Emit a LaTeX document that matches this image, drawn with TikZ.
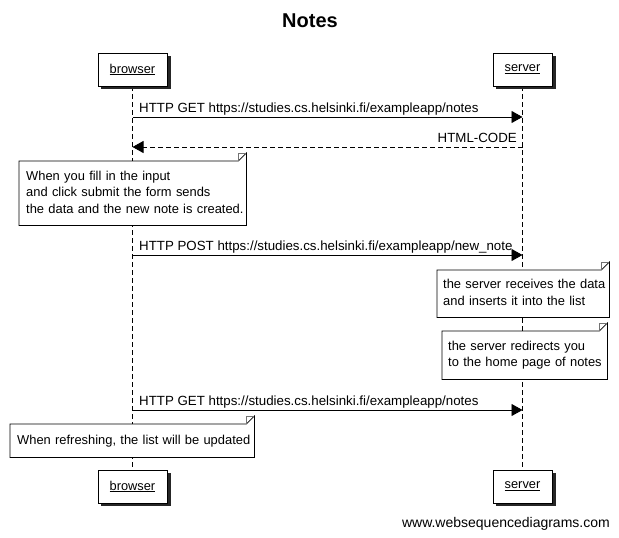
\documentclass[tikz,border=0pt]{standalone}
\usepackage{fontspec}
\setmainfont{Liberation Sans}
\usetikzlibrary{arrows.meta}
\tikzset{
  x=1pt,y=-1pt,
  actor/.style={draw,fill=white,line width=0.9pt,minimum height=33pt,inner sep=0pt,
    font=\fontsize{12.8}{15}\selectfont},
  shadow/.style={fill=black!85,draw=none},
  life/.style={line width=0.9pt,dash pattern=on 5pt off 3pt},
  msg/.style={line width=0.9pt,-{Triangle[length=11pt,width=12pt]}},
  ret/.style={msg,dash pattern=on 5pt off 3pt},
  lbl/.style={font=\fontsize{13.3}{15}\selectfont,inner sep=0pt},
  notebox/.style={draw=none,fill=white,inner xsep=7pt,inner ysep=0pt,anchor=north west,align=left,
    font=\fontsize{12.9}{16.5}\selectfont},
  noteline/.style={line width=0.8pt},
}
\newcommand{\notefold}[1]{%
  \draw[noteline] (#1.north west) -- ([xshift=-8pt]#1.north east) -- ([yshift=8pt]#1.north east)
     -- (#1.south east) -- (#1.south west) -- cycle;
  \draw[line width=0.6pt,black!55] ([xshift=-8pt]#1.north east) -- ([xshift=-8pt,yshift=8pt]#1.north east) -- ([yshift=8pt]#1.north east);
}
\newcommand{\notelines}[1]{\begin{tabular}{@{}l@{}}#1\end{tabular}}
\begin{document}
\begin{tikzpicture}
\useasboundingbox[fill=white] (0,0) rectangle (619,538);
\node[font=\fontsize{20}{24}\selectfont\bfseries] (title) at (310,21) {Notes};
% lifelines
\coordinate (bT) at (132.5,86);
\coordinate (bB) at (132.5,470);
\coordinate (sT) at (522.5,86);
\coordinate (sB) at (522.5,470);
\draw[life] (bT) -- (bB);
\draw[life] (sT) -- (sB);
% participant boxes
\fill[shadow] (101,56) rectangle (171,89);
\fill[shadow] (496,56) rectangle (556,89);
\fill[shadow] (101,473) rectangle (171,506);
\fill[shadow] (496,473) rectangle (556,506);
\node[actor,minimum width=69pt] (b1) at (132.5,69.5) {\underline{browser}};
\node[actor,minimum width=59pt] (s1) at (522.5,69.5) {\underline{server}};
\node[actor,minimum width=69pt] (b2) at (132.5,486.5) {\underline{browser}};
\node[actor,minimum width=59pt] (s2) at (522.5,486.5) {\underline{server}};
% message 1
\coordinate (m1b) at (132.5,117);
\coordinate (m1s) at (522.5,117);
\draw[msg] (m1b) -- (m1s);
\node[lbl,anchor=base west] (l1) at (139,112) {HTTP GET https://studies.cs.helsinki.fi/exampleapp/notes};
% return
\coordinate (r1s) at (522.5,147);
\coordinate (r1b) at (132.5,147);
\draw[ret] (r1s) -- (r1b);
\node[lbl,anchor=base east] (l2) at (517,142) {HTML-CODE};
% note 1
\node[notebox,text width=213pt,minimum height=64pt] (n1) at (19,161)
  {\notelines{When you fill in the input\\and click submit the form sends\\the data and the new note is created.}};
\notefold{n1}
% message 2
\coordinate (m2b) at (132.5,255);
\coordinate (m2s) at (522.5,255);
\draw[msg] (m2b) -- (m2s);
\node[lbl,anchor=base west] (l3) at (139,250) {HTTP POST https://studies.cs.helsinki.fi/exampleapp/new\_note};
% note 2
\node[notebox,inner xsep=6pt,text width=160pt,minimum height=47pt] (n2) at (437,270)
  {\notelines{the server receives the data\\and inserts it into the list}};
\notefold{n2}
% note 3
\node[notebox,inner xsep=6pt,text width=153pt,minimum height=48pt] (n3) at (442,331)
  {\notelines{the server redirects you\\to the home page of notes}};
\notefold{n3}
% message 3
\coordinate (m3b) at (132.5,410);
\coordinate (m3s) at (522.5,410);
\draw[msg] (m3b) -- (m3s);
\node[lbl,anchor=base west] (l4) at (139,405) {HTTP GET https://studies.cs.helsinki.fi/exampleapp/notes};
% note 4
\node[notebox,inner xsep=7pt,text width=230pt,minimum height=33pt] (n4) at (10,424)
  {\notelines{When refreshing, the list will be updated}};
\notefold{n4}
% footer
\node[lbl,anchor=base east,font=\fontsize{14}{16}\selectfont] (foot) at (610,527) {www.websequencediagrams.com};
\end{tikzpicture}
\end{document}
